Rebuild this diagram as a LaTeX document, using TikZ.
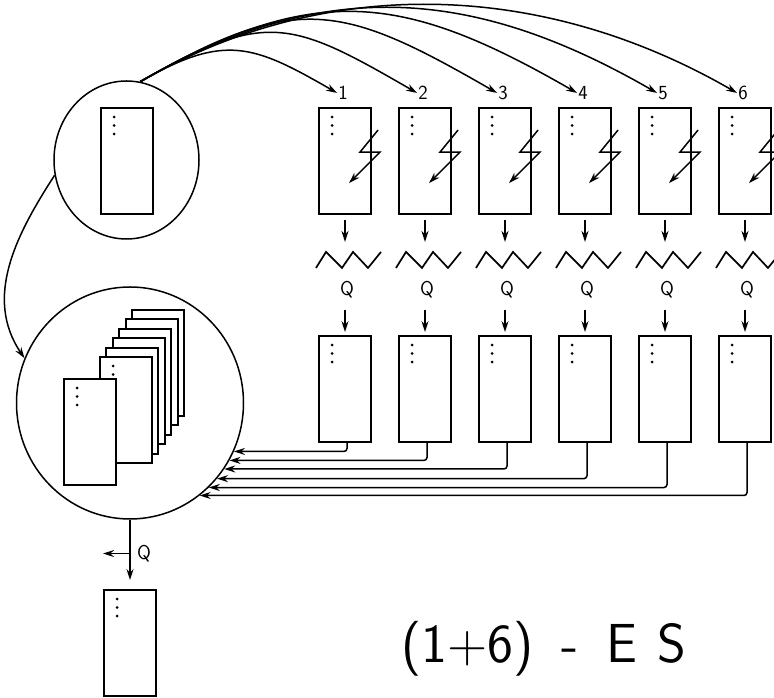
\documentclass[tikz,border=0pt]{standalone}
\usepackage{tikz}
\usetikzlibrary{shapes.geometric, arrows.meta}

\begin{document}
\begin{tikzpicture}[x=1pt, y=1pt, >={Stealth[length=11pt,width=7pt]},
  every node/.style={font=\sffamily},
  indiv/.style={draw, line width=1.9pt, fill=white, minimum width=52pt, minimum height=106pt, inner sep=0pt},
  popring/.style={draw, ellipse, line width=1.5pt, inner sep=0pt},
  lbl/.style={font=\sffamily\fontsize{20}{20}\selectfont, inner sep=1pt},
  conn/.style={->, line width=1.5pt}]
  \useasboundingbox (0,0) rectangle (774,698);

  % parent population
  \node[popring, minimum width=145pt, minimum height=158pt] (parentpop) at (126.5,538) {};
  \node[indiv] (parent) at (127,537) {};

  % pool of parent and offspring
  \node[popring, minimum width=227pt, minimum height=232pt] (pool) at (130,295) {};
  \foreach \j/\px/\py in {5/158/335, 4/152/326, 3/145/316, 2/139/307, 1/132/297, 0/126/288}
    \node[indiv] (pg\j) at (\px,\py) {};
  \foreach \d in {10,18.5,27}
    \fill ([shift={(14,-\d)}]pg0.north west) circle (1.5pt);
  \node[indiv] (front) at (90,266) {};

  % offspring: mutation, evaluation
  \foreach \k/\d/\a in {1/97/-25, 2/145/-30, 3/180/-35.5, 4/201/-41, 5/212/-47, 6/220/-53.5} {
    \node[indiv] (o\k) at (265+80*\k, 537) {};
    \node[lbl] (n\k) at (263+80*\k, 605) {\k};
    \draw[conn] (parentpop.80) .. controls +(30:\d) and +(150:\d) .. (n\k.west);
    \draw[conn] ([shift={(60,-23)}]o\k.north west) -- ++(-18,-22) -- ++(20,0) -- ++(-31,-31);
    \draw[conn] ([yshift=-5pt]o\k.south) -- ++(0,-22);
    \draw[line width=1.7pt] ([shift={(-29,-53)}]o\k.south) -- ++(10,16) -- ++(16,-16)
      -- ++(11,16) -- ++(15,-16) -- ++(13,16);
    \node[indiv] (c\k) at (265+80*\k, 309) {};
    \node[lbl] (q\k) at (267+80*\k, 408) {Q};
    \draw[conn] ([yshift=25pt]c\k.north) -- ([yshift=3pt]c\k.north);
    \draw[conn, rounded corners=3pt] ([xshift=2pt]c\k.south) |- (pool.\a);
  }

  \draw[conn] (parentpop.192) to[out=237, in=124] (pool.157);

  % selection
  \node[indiv] (best) at (130,55) {};
  \draw[conn] (pool.south) -- coordinate[pos=0.56] (qsplit) ([yshift=9pt]best.north);
  \draw[conn] (qsplit) -- ++(-27,0);
  \node[lbl, anchor=west] (qbest) at ([xshift=6pt]qsplit) {Q};

  \foreach \b in {parent, front, o1, o2, o3, o4, o5, o6, c1, c2, c3, c4, c5, c6, best}
    \foreach \d in {10,18.5,27}
      \fill ([shift={(14,-\d)}]\b.north west) circle (1.5pt);

  \node[font=\sffamily\fontsize{55}{55}\selectfont, anchor=base] (title) at (544,35)
    {(1+6)\hspace{28pt}-\hspace{28pt}E\hspace{20pt}S};
\end{tikzpicture}
\end{document}
